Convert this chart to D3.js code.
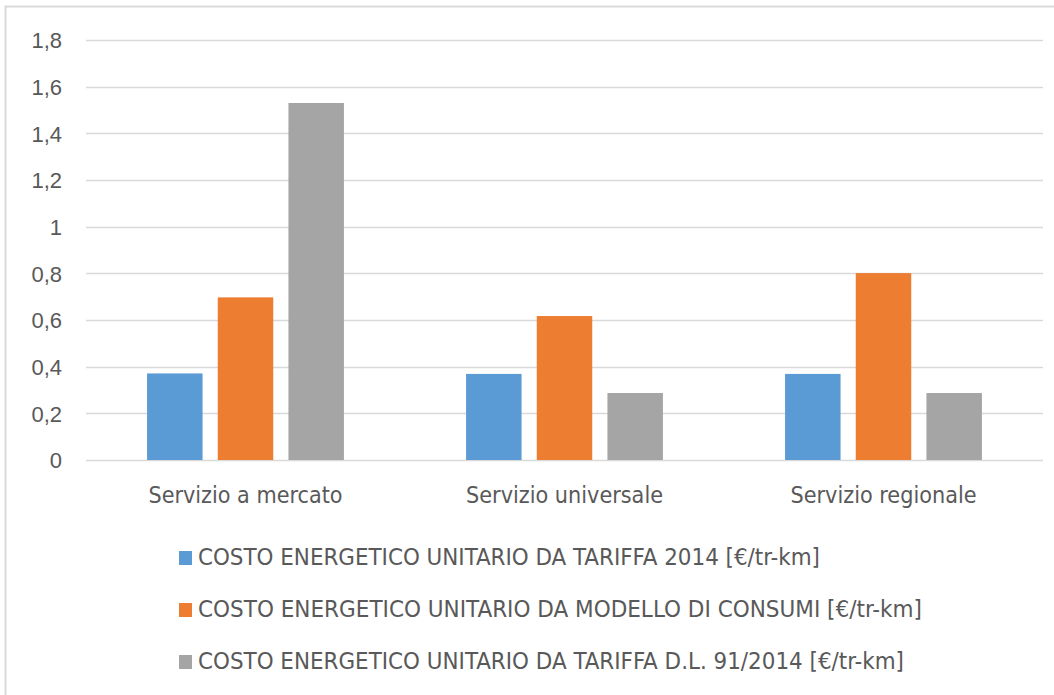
<!DOCTYPE html>
<html>
<head>
<meta charset="utf-8">
<script src="https://cdn.jsdelivr.net/npm/d3@7"></script>
<style>
  html, body { margin: 0; padding: 0; background: #fff; }
  svg { display: block; }
</style>
</head>
<body>
<svg id="chart" width="1054" height="695"></svg>
<script>
const categories = ["Servizio a mercato", "Servizio universale", "Servizio regionale"];
const seriesNames = [
  "COSTO ENERGETICO UNITARIO DA TARIFFA 2014 [€/tr-km]",
  "COSTO ENERGETICO UNITARIO DA MODELLO DI CONSUMI [€/tr-km]",
  "COSTO ENERGETICO UNITARIO DA TARIFFA D.L. 91/2014 [€/tr-km]"
];
const tariffa2014 = [0.371, 0.369, 0.369];
const modelloConsumi = [0.697, 0.617, 0.801];
const tariffaDL91 = [1.530, 0.287, 0.287];
const yTicks = [0, 0.2, 0.4, 0.6, 0.8, 1, 1.2, 1.4, 1.6, 1.8];
const yTickLabels = ["0", "0,2", "0,4", "0,6", "0,8", "1", "1,2", "1,4", "1,6", "1,8"];

const seriesValues = [tariffa2014, modelloConsumi, tariffaDL91];
const colors = ["#5B9BD5", "#ED7D31", "#A5A5A5"];
const legendWidths = [622, 724, 706];
const catLabelWidths = [194, 197, 186];

const svg = d3.select("#chart");
const font = "'Liberation Sans Narrow', 'DejaVu Sans Condensed', 'Liberation Sans', sans-serif";

// chart border
svg.append("path")
  .attr("d", "M5.5,700 V6.5 H1060")
  .attr("fill", "none")
  .attr("stroke", "#d9d9d9")
  .attr("stroke-width", 2);

const plot = { left: 86, right: 1043, top: 40, bottom: 460 };

const y = d3.scaleLinear().domain([0, 1.8]).range([plot.bottom, plot.top]);
const x0 = d3.scaleBand().domain(categories).range([plot.left, plot.right]).padding(0);
const x1 = d3.scaleBand().domain([0, 1, 2]).range([0, x0.bandwidth()])
  .paddingInner(0.215).paddingOuter(0.864);

// gridlines
svg.append("g")
  .selectAll("line")
  .data(yTicks)
  .join("line")
  .attr("x1", plot.left)
  .attr("x2", plot.right)
  .attr("y1", d => Math.round(y(d)) + 0.5)
  .attr("y2", d => Math.round(y(d)) + 0.5)
  .attr("stroke", "#d9d9d9")
  .attr("stroke-width", 1.6);

// y axis labels
const yAxis = d3.axisLeft(y).tickValues(yTicks)
  .tickFormat((d, i) => yTickLabels[i]).tickSize(0).tickPadding(0);
const yg = svg.append("g").attr("transform", `translate(62,0)`).call(yAxis);
yg.select(".domain").remove();
yg.selectAll("text")
  .attr("fill", "#595959")
  .style("font-family", "'Liberation Sans', sans-serif")
  .style("font-size", "22px")
  .attr("dy", "0.36em");

// bars
const groups = svg.append("g")
  .selectAll("g")
  .data(categories)
  .join("g")
  .attr("transform", d => `translate(${x0(d)},0)`);

groups.selectAll("rect")
  .data((d, ci) => seriesValues.map((s, si) => ({ si, v: s[ci] })))
  .join("rect")
  .attr("x", d => x1(d.si))
  .attr("width", x1.bandwidth())
  .attr("y", d => y(d.v))
  .attr("height", d => y(0) - y(d.v))
  .attr("fill", d => colors[d.si]);

// x axis labels
const xAxis = d3.axisBottom(x0).tickSize(0).tickPadding(0);
const xg = svg.append("g").attr("transform", `translate(0,503)`).call(xAxis);
xg.select(".domain").remove();
xg.selectAll("text")
  .attr("y", 0)
  .attr("dy", 0)
  .attr("fill", "#595959")
  .style("font-family", font)
  .style("font-size", "23px")
  .attr("textLength", (d, i) => catLabelWidths[i])
  .attr("lengthAdjust", "spacingAndGlyphs");

// legend
const legend = svg.append("g")
  .selectAll("g")
  .data(seriesNames)
  .join("g")
  .attr("transform", (d, i) => `translate(179,${565 + i * 52})`);

legend.append("rect")
  .attr("x", 0)
  .attr("y", -14)
  .attr("width", 13)
  .attr("height", 14)
  .attr("fill", (d, i) => colors[i]);

legend.append("text")
  .attr("x", 19)
  .attr("y", 0)
  .attr("fill", "#595959")
  .style("font-family", font)
  .style("font-size", "23px")
  .attr("textLength", (d, i) => legendWidths[i])
  .attr("lengthAdjust", "spacingAndGlyphs")
  .text(d => d);
</script>
</body>
</html>
